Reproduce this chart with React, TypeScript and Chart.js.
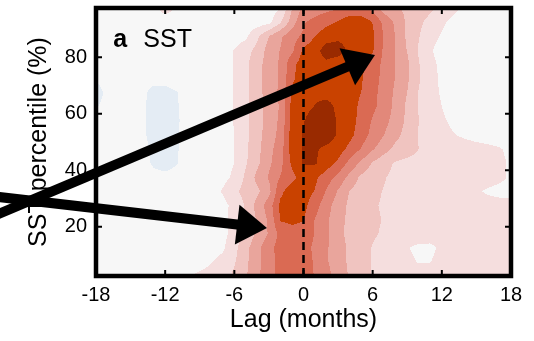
import { useEffect, useRef } from "react";
import { Chart, registerables } from "chart.js";

Chart.register(...registerables);

const FONT = "'Liberation Sans', Arial, Helvetica, sans-serif";

// Lag (months) of each grid column
const lags = [-18, -17, -16, -15, -14, -13, -12, -11, -10, -9, -8, -7, -6, -5, -4, -3, -2, -1, 0,
  1, 2, 3, 4, 5, 6, 7, 8, 9, 10, 11, 12, 13, 14, 15, 16, 17, 18];
// SST percentile (%) of each grid row
const percentiles = [97.5, 92.5, 87.5, 82.5, 77.5, 72.5, 67.5, 62.5, 57.5, 52.5, 47.5, 42.5,
  37.5, 32.5, 27.5, 22.5, 17.5, 12.5, 7.5, 2.5];
const xTickValues = [-18, -12, -6, 0, 6, 12, 18];
const yTickValues = [20, 40, 60, 80];

// Composite anomaly, in contour-level units (row = percentile, column = lag)
const sstLevels = [
  [0,0,0,0,0,0.3,0.9,0.4,0,0,0,0,0,0,0,0,0.45,2.45,3.8,4.0,4.2,4.4,4.6,4.6,4.2,3.0,2.6,2.3,2.0,1.7,1.3,0.8,0.3,0,0,0,0],
  [0,0,0,0,0,0,0,0,0,0,0,0,0,0,0,0.2,1.4,3.0,4.4,4.8,5.2,5.6,6.2,6.2,5.45,4.2,3.3,2.3,1.7,1.2,0.7,0.2,0,0,0,0,0],
  [0,0,0,0,0,0,0,0,0,0,0,0,0,0.3,1.3,2.5,3.35,4.1,4.7,5.5,6.1,6.3,6.2,6.0,5.7,4.4,3.45,2.3,1.55,0.9,0.4,0,0,0,0,0,0],
  [0,0,0,0,0,0,0,0,0,0,0,0,0.55,1.1,1.85,2.9,3.55,4.3,5.7,6.2,6.9,6.9,6.3,6.0,5.6,4.3,3.45,2.45,1.4,0.6,0.1,0,0,0,0,0,0],
  [0,0,0,0,0,0,0,0,0,0,0,0,0.55,1.3,2.15,2.95,3.65,5.2,6.0,6.2,6.3,6.0,5.9,5.7,5.1,4.2,3.45,2.7,1.55,0.8,0.25,0,0,0,0,0,0],
  [-0.4,0,0,0,0,-0.2,-0.2,0,0,0,0,0,0.55,1.3,2.15,2.95,3.65,5.3,6.1,6.3,6.3,6.1,5.9,5.6,4.9,4.2,3.45,2.65,1.6,0.9,0.3,0,0,0,0,0,0],
  [-1.0,-0.2,0,0,-0.3,-0.8,-0.8,-0.55,0,0,0,0,0.55,1.3,2.15,2.95,3.7,5.7,6.1,6.3,6.2,6.2,5.9,5.5,4.8,4.1,3.3,2.5,1.45,0.8,0.4,0,0,0,0,0,0],
  [-0.6,-0.1,0,0,-0.3,-0.85,-0.9,-0.6,-0.05,0,0,0,0.55,1.3,2.1,2.9,3.6,5.8,6.2,6.55,6.8,6.3,5.9,5.3,4.7,4.1,3.2,2.3,1.45,0.95,0.5,0.1,0,0,0,0,0],
  [0,0,0,0,-0.3,-0.9,-1.0,-0.65,-0.05,0,0,0,0.55,1.3,2.1,2.9,3.7,5.9,6.45,7.0,7.0,6.4,5.9,5.2,4.4,3.8,3.1,2.3,1.5,1.05,0.65,0.3,0,0,0,0,0],
  [0,0,0,0,-0.3,-0.85,-1.0,-0.6,0,0,0,0,0.52,1.3,2.15,3.0,3.8,6.0,6.6,7.1,7.0,6.4,5.8,5.0,4.2,3.5,2.8,2.1,1.45,1.1,0.8,0.55,0.35,0.2,0.1,0.1,0],
  [0,0,0,0,-0.2,-0.7,-0.9,-0.6,0,0,0,0,0.52,1.3,2.2,3.2,4.0,6.0,6.6,6.6,6.3,6.0,5.2,4.45,3.6,2.9,2.2,1.9,1.5,1.25,1.1,1.0,0.9,0.8,0.7,0.55,0.35],
  [0,0,0,0,-0.1,-0.65,-0.8,-0.55,0,0,0,0,0.52,1.4,2.3,3.3,4.2,5.7,6.6,6.6,6.0,5.3,4.2,3.3,2.4,1.8,1.4,1.25,1.2,1.2,1.15,1.1,1.0,0.95,0.85,0.65,0.4],
  [0,0,0,0,0,-0.2,-0.3,-0.2,0,0,0,0.2,0.7,1.7,2.8,3.6,4.55,5.2,6.0,5.7,5.0,4.2,3.2,2.3,1.9,1.55,1.3,1.2,1.15,1.1,1.05,1.0,0.95,0.9,0.8,0.65,0.4],
  [0,0,0,0,0,0,0,0,0,0,0.1,0.6,1.25,1.9,2.3,3.2,5.3,6.0,6.0,5.45,4.4,3.4,2.45,2.0,1.7,1.45,1.3,1.2,1.1,1.0,0.95,0.85,0.7,0.6,0.4,0.3,0.3],
  [0,0,0,0,0,0,0,0,0,0,0,0.2,0.8,1.6,2.9,4.0,5.7,6.0,5.8,4.9,3.9,3.0,2.3,1.9,1.6,1.4,1.3,1.2,1.1,1.05,1.0,0.95,0.9,0.85,0.8,0.75,0.7],
  [0,0,0,0,0,0,0,0,0,0,0,0.2,0.9,1.7,2.6,3.7,5.6,5.7,5.55,4.45,3.7,2.8,2.3,1.9,1.65,1.45,1.3,1.2,1.1,1.05,1.0,0.95,0.9,0.9,0.85,0.8,0.75],
  [0,0,0,0,0,0,0,0,0,0,0,0.2,0.9,1.8,2.7,3.6,4.8,5.2,5.1,4.45,3.7,2.8,2.2,1.85,1.6,1.4,1.25,1.1,1.0,0.95,0.95,0.95,0.95,0.9,0.85,0.8,0.75],
  [0,0,0,0,0,0,0,0,0,0,0.1,0.35,1.2,2.2,3.2,4.2,4.9,5.1,4.9,4.3,3.6,3.0,2.3,1.9,1.45,1.25,0.95,0.55,0.3,0.3,0.7,0.85,0.9,0.9,0.85,0.8,0.75],
  [0,0,0,0,0,0,0,0,0,0.1,0.45,0.8,1.4,2.3,3.2,4.1,4.8,5.0,4.9,4.4,3.6,3.0,2.3,1.9,1.45,1.25,1.0,0.7,0.45,0.48,0.8,0.9,0.9,0.9,0.85,0.85,0.8],
  [0,0,0,0,0,0,0,0,0.45,0.7,0.9,1.1,1.7,2.4,3.3,4.2,4.8,5.0,4.9,4.45,3.8,3.1,2.4,1.9,1.45,1.3,1.1,1.0,0.9,0.9,0.9,0.9,0.9,0.9,0.85,0.85,0.8],
];

const positiveColors = ["#f5dede", "#f0c4c0", "#e9a59c", "#e2887a", "#da6a53", "#c94200", "#992a00"];
const negativeColor = "#e4ecf4";
const neutralColor = "#f7f7f7";

// Annotation arrows, in (lag, percentile) units: [start, tip]
const arrowLags = [[-27.9, 6.2], [-27.9, -3.17]];
const arrowPercentiles = [[22.0, 80.8], [31.2, 19.5]];

function hexToRgb(h: string): number[] {
  const n = parseInt(h.slice(1), 16);
  return [(n >> 16) & 255, (n >> 8) & 255, n & 255];
}

function locate(arr: number[], v: number): [number, number] {
  const n = arr.length;
  for (let i = 0; i < n - 1; i++) {
    const a = arr[i], b = arr[i + 1];
    if (v >= Math.min(a, b) && v <= Math.max(a, b)) return [i, (v - a) / (b - a)];
  }
  const asc = arr[n - 1] > arr[0];
  if (asc ? v < arr[0] : v > arr[0]) return [0, 0];
  return [n - 2, 1];
}

const contourPlugin = {
  id: "contourFill",
  beforeDatasetsDraw(chart: any) {
    const { ctx, chartArea: a, scales } = chart;
    const xs = scales.x, ys = scales.y;
    const left = Math.floor(a.left), top = Math.floor(a.top);
    const w = Math.ceil(a.right) - left, h = Math.ceil(a.bottom) - top;
    const pts = chart.data.datasets[0].data as any[];
    const grid: number[][] = percentiles.map(() => new Array(lags.length).fill(0));
    pts.forEach((p) => { grid[p.row][p.col] = p.v; });
    const pos = positiveColors.map(hexToRgb);
    const neg = hexToRgb(negativeColor), neu = hexToRgb(neutralColor);
    const colIdx = [] as [number, number][];
    for (let i = 0; i < w; i++) colIdx.push(locate(lags, xs.getValueForPixel(left + i + 0.5)));
    const img = ctx.createImageData(w, h);
    for (let j = 0; j < h; j++) {
      const [r, tr] = locate(percentiles, ys.getValueForPixel(top + j + 0.5));
      const g0 = grid[r], g1 = grid[r + 1];
      for (let i = 0; i < w; i++) {
        const [c, tc] = colIdx[i];
        const v0 = g0[c] * (1 - tc) + g0[c + 1] * tc;
        const v1 = g1[c] * (1 - tc) + g1[c + 1] * tc;
        const v = v0 * (1 - tr) + v1 * tr;
        let col: number[];
        if (v < -0.5) col = neg;
        else if (v < 0.5) col = neu;
        else col = pos[Math.min(pos.length, Math.floor(v + 0.5)) - 1];
        const k = (j * w + i) * 4;
        img.data[k] = col[0]; img.data[k + 1] = col[1]; img.data[k + 2] = col[2]; img.data[k + 3] = 255;
      }
    }
    const off = document.createElement("canvas");
    off.width = w; off.height = h;
    off.getContext("2d")!.putImageData(img, 0, 0);
    ctx.save();
    ctx.drawImage(off, left, top);
    ctx.restore();
  },
};

function drawArrow(ctx: CanvasRenderingContext2D, x0: number, y0: number, x1: number, y1: number) {
  const ang = Math.atan2(y1 - y0, x1 - x0);
  const cs = Math.cos(ang), sn = Math.sin(ang);
  const headLen = 30, headW = 40;
  const bx = x1 - headLen * cs, by = y1 - headLen * sn;
  ctx.save();
  ctx.strokeStyle = "#000";
  ctx.fillStyle = "#000";
  ctx.lineWidth = 10;
  ctx.lineCap = "butt";
  ctx.beginPath();
  ctx.moveTo(x0, y0);
  ctx.lineTo(bx + 2 * cs, by + 2 * sn);
  ctx.stroke();
  ctx.beginPath();
  ctx.moveTo(x1, y1);
  ctx.lineTo(bx + (sn * headW) / 2, by - (cs * headW) / 2);
  ctx.lineTo(bx - (sn * headW) / 2, by + (cs * headW) / 2);
  ctx.closePath();
  ctx.fill();
  ctx.restore();
}

const framePlugin = {
  id: "frameAndMarks",
  afterDatasetsDraw(chart: any) {
    const { ctx, chartArea: a, scales } = chart;
    const xs = scales.x, ys = scales.y;
    ctx.save();
    const x0 = xs.getPixelForValue(0);
    ctx.strokeStyle = "#000";
    ctx.lineWidth = 2.5;
    ctx.setLineDash([8, 5]);
    ctx.beginPath();
    ctx.moveTo(x0, a.top);
    ctx.lineTo(x0, a.bottom);
    ctx.stroke();
    ctx.setLineDash([]);
    ctx.lineWidth = 2;
    const tl = 6;
    xTickValues.forEach((v) => {
      const px = xs.getPixelForValue(v);
      ctx.beginPath();
      ctx.moveTo(px, a.bottom); ctx.lineTo(px, a.bottom - tl);
      ctx.moveTo(px, a.top); ctx.lineTo(px, a.top + tl);
      ctx.stroke();
    });
    yTickValues.forEach((v) => {
      const py = ys.getPixelForValue(v);
      ctx.beginPath();
      ctx.moveTo(a.left, py); ctx.lineTo(a.left + tl, py);
      ctx.moveTo(a.right, py); ctx.lineTo(a.right - tl, py);
      ctx.stroke();
    });
    ctx.lineWidth = 4.5;
    ctx.strokeRect(a.left, a.top, a.right - a.left, a.bottom - a.top);
    ctx.restore();
  },
  afterDraw(chart: any) {
    const { ctx, scales } = chart;
    const xs = scales.x, ys = scales.y;
    arrowLags.forEach((lg, i) => {
      const pc = arrowPercentiles[i];
      drawArrow(ctx, xs.getPixelForValue(lg[0]), ys.getPixelForValue(pc[0]),
        xs.getPixelForValue(lg[1]), ys.getPixelForValue(pc[1]));
    });
    ctx.save();
    ctx.fillStyle = "#000";
    ctx.textBaseline = "alphabetic";
    ctx.font = `bold 25px ${FONT}`;
    const lx = xs.getPixelForValue(-16.5), ly = ys.getPixelForValue(83.5);
    ctx.fillText("a", lx, ly);
    ctx.font = `25px ${FONT}`;
    ctx.fillText("SST", lx + 30, ly);
    ctx.restore();
  },
};

export default function App() {
  const ref = useRef<HTMLCanvasElement | null>(null);
  useEffect(() => {
    if (!ref.current) return;
    const points: any[] = [];
    sstLevels.forEach((row, r) => row.forEach((v, c) => {
      points.push({ x: lags[c], y: percentiles[r], v, row: r, col: c });
    }));
    const chart = new Chart(ref.current, {
      type: "scatter",
      data: { datasets: [{ data: points, pointRadius: 0, pointHoverRadius: 0, showLine: false }] },
      options: {
        animation: false,
        responsive: false,
        events: [],
        layout: { padding: { top: 8, right: 23, left: 0, bottom: 0 } },
        plugins: { legend: { display: false }, tooltip: { enabled: false } },
        scales: {
          x: {
            type: "linear", min: -18, max: 18, position: "bottom",
            grid: { display: false, drawTicks: false }, border: { display: false },
            afterBuildTicks: (s: any) => { s.ticks = xTickValues.map((v) => ({ value: v })); },
            afterFit: (s: any) => { s.height = 65; s.paddingLeft = 0; s.paddingRight = 0; },
            ticks: { autoSkip: false, maxRotation: 0, color: "#000", padding: 7,
              font: { family: FONT, size: 20 }, callback: (v: any) => String(v) },
            title: { display: true, text: "Lag (months)", color: "#000",
              font: { family: FONT, size: 25 }, padding: { top: 0, bottom: 6 } },
          },
          y: {
            type: "linear", min: 2.5, max: 97.5, position: "left",
            grid: { display: false, drawTicks: false }, border: { display: false },
            afterBuildTicks: (s: any) => { s.ticks = yTickValues.map((v) => ({ value: v })); },
            afterFit: (s: any) => { s.width = 96; s.paddingTop = 0; s.paddingBottom = 0; },
            ticks: { autoSkip: false, color: "#000", padding: 9,
              font: { family: FONT, size: 20 }, callback: (v: any) => String(v) },
            title: { display: true, text: "SST percentile (%)", color: "#000",
              font: { family: FONT, size: 25 }, padding: { top: 24, bottom: 0 } },
          },
        },
      } as any,
      plugins: [contourPlugin, framePlugin],
    });
    return () => chart.destroy();
  }, []);
  return (
    <div style={{ position: "fixed", left: 0, top: 0, width: 534, height: 341, background: "#fff" }}>
      <canvas ref={ref} width={534} height={341} style={{ display: "block", width: 534, height: 341 }} />
    </div>
  );
}
